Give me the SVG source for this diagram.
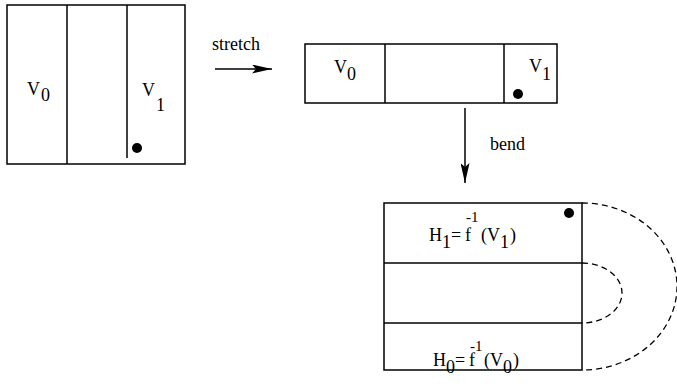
<svg xmlns="http://www.w3.org/2000/svg" width="677" height="388" viewBox="0 0 677 388">
<style>
.box{fill:none;stroke:#000;stroke-width:1.5}
.ln{stroke:#000;stroke-width:1.5;fill:none}
.dash{fill:none;stroke:#000;stroke-width:1.3;stroke-dasharray:6,4}
text{font-family:"Liberation Serif","Times New Roman",serif;fill:#000;font-size:18px}
.sup{font-size:15px}
</style>
<defs>
<marker id="ah" markerWidth="20" markerHeight="9" refX="20" refY="4.5" orient="auto" markerUnits="userSpaceOnUse">
<path d="M0,0 L20,4.5 L0,9 L4,4.5 Z" fill="#000"/>
</marker>
</defs>
<g id="square">
<rect class="box" x="7" y="5" width="178" height="159"/>
<line class="ln" x1="67" y1="5" x2="67" y2="164"/>
<line class="ln" x1="127" y1="5" x2="127" y2="158"/>
<circle cx="137" cy="148" r="5" fill="#000"/>
<text x="27" y="95">V</text><text x="41" y="101">0</text>
<text x="142" y="96">V</text><text x="156" y="111">1</text>
</g>
<g id="strip">
<rect class="box" x="305" y="44" width="252" height="59"/>
<line class="ln" x1="385" y1="44" x2="385" y2="103"/>
<line class="ln" x1="504" y1="44" x2="504" y2="103"/>
<circle cx="518" cy="94" r="5" fill="#000"/>
<text x="334" y="73">V</text><text x="347" y="80">0</text>
<text x="529" y="72">V</text><text x="542" y="80">1</text>
</g>
<g id="bent">
<rect class="box" x="384" y="203" width="198" height="167"/>
<line class="ln" x1="384" y1="263" x2="582" y2="263"/>
<line class="ln" x1="384" y1="323" x2="582" y2="323"/>
<circle cx="569" cy="213" r="5" fill="#000"/>
<text x="429" y="241">H</text><text x="442" y="248">1</text><text x="451" y="241">=</text><text x="465" y="241">f</text><text class="sup" x="466" y="222">-1</text><text x="481" y="241">(</text><text x="487" y="241">V</text><text x="500" y="248">1</text><text x="510" y="241">)</text>
<text x="433" y="366">H</text><text x="446" y="373">0</text><text x="455" y="366">=</text><text x="469" y="366">f</text><text class="sup" x="470" y="351">-1</text><text x="484" y="366">(</text><text x="490" y="366">V</text><text x="503" y="373">0</text><text x="513" y="366">)</text>
</g>
<g id="connectors">
<line class="ln" x1="215" y1="69" x2="272" y2="69" marker-end="url(#ah)"/>
<text x="212" y="50">stretch</text>
<line class="ln" x1="465" y1="108" x2="465" y2="183" marker-end="url(#ah)"/>
<text x="490" y="150">bend</text>
<path class="dash" d="M582,203 A95,83.5 0 0 1 582,370"/>
<path class="dash" d="M582,263 A40,30 0 0 1 582,323"/>
</g>
</svg>
